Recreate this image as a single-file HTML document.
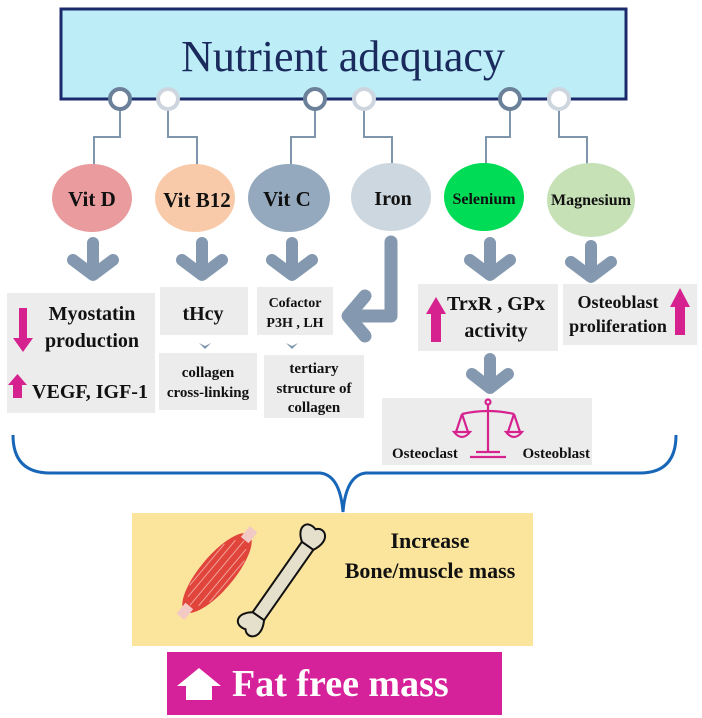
<!DOCTYPE html>
<html><head><meta charset="utf-8"><style>
html,body{margin:0;padding:0;background:#fff;}
svg{display:block;}
text{font-family:"Liberation Serif",serif;}
</style></head><body>
<svg width="702" height="718" viewBox="0 0 702 718" xmlns="http://www.w3.org/2000/svg">
<rect x="61" y="9" width="565" height="90" fill="#bdeef7" stroke="#1b2a6b" stroke-width="3"/>
<text x="343" y="71" text-anchor="middle" font-size="44" fill="#1a2a5c">Nutrient adequacy</text>
<g fill="none" stroke="#7f95ab" stroke-width="2">
<polyline points="120,99 120,137 94,137 94,166"/>
<polyline points="168,99 168,137 197,137 197,166"/>
<polyline points="315,99 315,137 291,137 291,166"/>
<polyline points="364,99 364,137 392,137 392,166"/>
<polyline points="510,99 510,137 486,137 486,166"/>
<polyline points="559,99 559,137 587,137 587,166"/>
</g>
<g fill="#fff" stroke-width="4">
<circle cx="120" cy="99" r="10" stroke="#6b8099"/>
<circle cx="168" cy="99" r="10" stroke="#cdd6df"/>
<circle cx="315" cy="99" r="10" stroke="#6b8099"/>
<circle cx="364" cy="99" r="10" stroke="#cdd6df"/>
<circle cx="510" cy="99" r="10" stroke="#6b8099"/>
<circle cx="559" cy="99" r="10" stroke="#cdd6df"/>
</g>
<ellipse cx="92" cy="198" rx="40" ry="34" fill="#e99b9e"/>
<ellipse cx="195" cy="198" rx="40" ry="34" fill="#f8caa9"/>
<ellipse cx="289" cy="198" rx="41" ry="34" fill="#94a9bd"/>
<ellipse cx="391" cy="197" rx="40" ry="34" fill="#cdd7e0"/>
<ellipse cx="484" cy="197" rx="40" ry="34" fill="#00dc55"/>
<ellipse cx="591" cy="200" rx="44" ry="37" fill="#c6e1b5"/>
<g font-weight="bold" text-anchor="middle" fill="#111">
<text x="92" y="206" font-size="21">Vit D</text>
<text x="197" y="207" font-size="21">Vit B12</text>
<text x="287" y="206" font-size="21">Vit C</text>
<text x="393" y="205" font-size="20">Iron</text>
<text x="484" y="204" font-size="16">Selenium</text>
<text x="591" y="205" font-size="16">Magnesium</text>
</g>
<g fill="none" stroke="#8499b0" stroke-width="12" stroke-linecap="round" stroke-linejoin="round">
<path d="M93,243 V272 M73,260 L93,275 L113,260"/>
<path d="M202,243 V272 M182,260 L202,275 L222,260"/>
<path d="M292,243 V272 M272,260 L292,275 L312,260"/>
<path d="M490,243 V272 M470,260 L490,275 L510,260"/>
<path d="M591,246 V274 M571,262 L591,277 L611,262"/>
<path d="M391,242 V316 H352 M365,296 L348,316 L365,336" stroke-width="13"/>
<path d="M490,359 V384 M472,374 L490,388 L508,374"/>
</g>
<g fill="#ececec">
<rect x="7" y="293" width="148" height="120"/>
<rect x="160" y="287" width="88" height="48"/>
<rect x="159" y="353" width="98" height="57"/>
<rect x="257" y="287" width="76" height="48"/>
<rect x="264" y="355" width="100" height="63"/>
<rect x="418" y="284" width="140" height="67"/>
<rect x="563" y="284" width="134" height="61"/>
<rect x="382" y="398" width="210" height="67"/>
</g>
<g fill="#7f95ab"><path d="M199,343 L205,349 L211,343 L205,346Z"/><path d="M286,343 L292,349 L298,343 L292,346Z"/></g>
<g fill="#d6228f">
<path d="M19,308 H27 V338 H33 L23,352 L13,338 H19Z"/>
<path d="M13,398 V385 H8 L17.5,374 L27,385 H22 V398Z"/>
<path d="M431,342 V314 H426 L436,297 L446,314 H441 V342Z"/>
<path d="M675,335 V307 H670 L680,288 L690,307 H685 V335Z"/>
</g>
<g font-weight="bold" fill="#111" text-anchor="middle">
<text x="92" y="320" font-size="20">Myostatin</text>
<text x="92" y="347" font-size="20">production</text>
<text x="90" y="398" font-size="20">VEGF, IGF-1</text>
<text x="203" y="320" font-size="20">tHcy</text>
<text x="208" y="377" font-size="15">collagen</text>
<text x="208" y="397" font-size="15">cross-linking</text>
<text x="295" y="307" font-size="14">Cofactor</text>
<text x="295" y="327" font-size="14">P3H , LH</text>
<text x="314" y="373" font-size="15">tertiary</text>
<text x="314" y="393" font-size="15">structure of</text>
<text x="314" y="412" font-size="15">collagen</text>
<text x="496" y="310" font-size="20">TrxR , GPx</text>
<text x="496" y="337" font-size="20">activity</text>
<text x="618" y="308" font-size="18">Osteoblast</text>
<text x="618" y="332" font-size="18">proliferation</text>
<text x="392" y="458" font-size="15" text-anchor="start">Osteoclast</text>
<text x="590" y="458" font-size="15" text-anchor="end">Osteoblast</text>
</g>
<g fill="none" stroke="#d6228f" stroke-width="2.2">
<circle cx="488" cy="402" r="2.5"/>
<line x1="488" y1="405" x2="488" y2="452"/>
<path d="M462,414 Q488,408 514,414"/>
<line x1="462" y1="414" x2="456" y2="432"/><line x1="462" y1="414" x2="468" y2="432"/>
<line x1="514" y1="414" x2="508" y2="432"/><line x1="514" y1="414" x2="520" y2="432"/>
<path d="M454,432 Q462,442 470,432 Z"/><path d="M506,432 Q514,442 522,432 Z"/>
<path d="M476,452 H500 M470,457 H506"/>
</g>
<path d="M13,435 Q13,473 50,473 H320 Q340,475 343,512 Q346,475 366,473 H640 Q676,473 676,435" fill="none" stroke="#1766b8" stroke-width="3"/>
<rect x="132" y="513" width="401" height="133" fill="#fbe49c"/>
<g font-weight="bold" fill="#111" text-anchor="middle">
<text x="430" y="548" font-size="22">Increase</text>
<text x="430" y="578" font-size="22">Bone/muscle mass</text>
</g>
<g transform="rotate(-50 217 573)">
<ellipse cx="217" cy="573" rx="50" ry="17" fill="#e0443a"/>
<path d="M175,573 H259 M180,566 H254 M180,580 H254 M190,560 H244 M190,586 H244" stroke="#f2a39c" stroke-width="1"/>
<rect x="160" y="568" width="14" height="10" fill="#f3c9c6"/>
<rect x="260" y="568" width="14" height="10" fill="#f3c9c6"/>
</g>
<g transform="rotate(-55 283 581)">
<rect x="240" y="574" width="86" height="14" fill="#e5e0cc" stroke="#111" stroke-width="2"/>
<path d="M240,574 C230,560 218,566 222,578 C214,584 222,598 240,588Z" fill="#e5e0cc" stroke="#111" stroke-width="2"/>
<path d="M326,574 C336,560 348,566 344,578 C352,584 344,598 326,588Z" fill="#e5e0cc" stroke="#111" stroke-width="2"/>
</g>
<rect x="167" y="652" width="335" height="63" fill="#d6229a"/>
<path d="M186,700 V686 H177 L199,668 L221,686 H212 V700Z" fill="#fff"/>
<text x="232" y="696" font-size="38" font-weight="bold" fill="#fff">Fat free mass</text>
</svg>
</body></html>
